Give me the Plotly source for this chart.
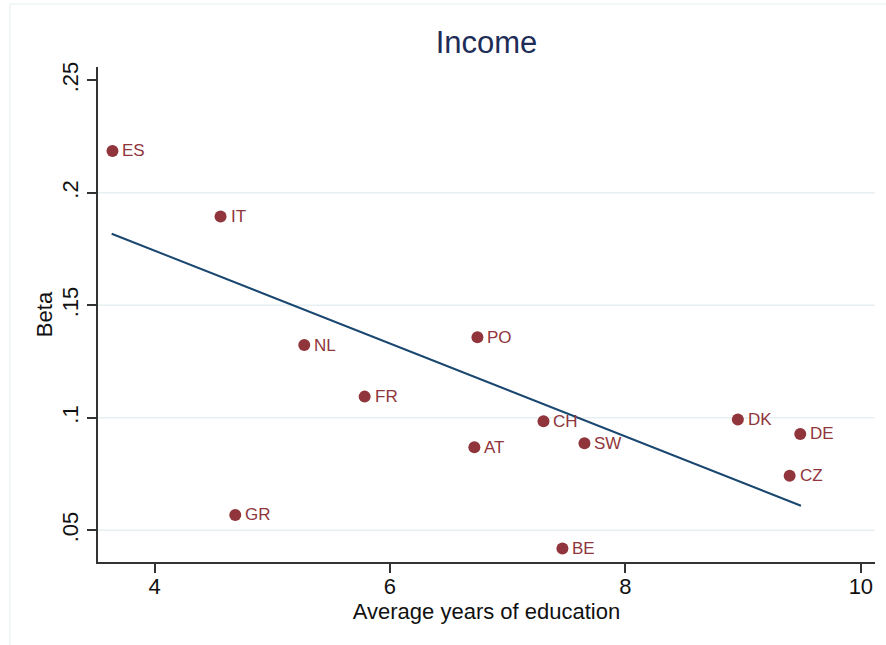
import plotly.graph_objects as go

countries = ["ES", "IT", "NL", "FR", "GR", "PO", "CH", "AT", "SW", "DK", "DE", "CZ", "BE"]
education = [3.643, 4.561, 5.272, 5.785, 4.686, 6.743, 7.304, 6.717, 7.652, 8.955, 9.485, 9.395, 7.465]
beta = [0.2186, 0.1895, 0.1323, 0.1094, 0.0568, 0.1358, 0.0985, 0.0869, 0.0887, 0.0992, 0.0928, 0.0742, 0.0419]

# fitted line as drawn in the reference (endpoints)
fit_x = [3.636, 9.491]
fit_y = [0.1818, 0.0609]

x_ticks = [4, 6, 8, 10]
y_ticks = [0.05, 0.10, 0.15, 0.20, 0.25]
y_ticktext = [".05", ".1", ".15", ".2", ".25"]
grid_vals = [0.05, 0.10, 0.15, 0.20]

W, H = 886, 645
ML, MR, MT, MB = 98, 11, 67, 83

MAROON = "#90353B"
NAVY = "#1A476F"
FONT = "Liberation Sans, Arial, sans-serif"

fig = go.Figure()
fig.add_trace(go.Scatter(
    x=fit_x, y=fit_y, mode="lines", line=dict(color=NAVY, width=2),
    showlegend=False,
))
fig.add_trace(go.Scatter(
    x=education, y=beta, mode="markers",
    marker=dict(color=MAROON, size=12),
    cliponaxis=False, showlegend=False,
))

annotations = []
for c, xv, yv in zip(countries, education, beta):
    annotations.append(dict(x=xv, y=yv, xref="x", yref="y", text=c, showarrow=False,
                            xanchor="left", yanchor="middle", xshift=8,
                            font=dict(color=MAROON, size=17, family=FONT)))

shapes = []
for g in grid_vals:
    shapes.append(dict(type="line", xref="paper", yref="y", x0=0, x1=1, y0=g, y1=g,
                       line=dict(color="#E6EFF1", width=1.5), layer="below"))
pw = W - ML - MR
ph = H - MT - MB
# faint outer graph-region border (left and top)
bx0 = (10 - ML) / pw
by1 = 1 + (MT - 4) / ph
by0 = -(MB + 5) / ph
bx1 = 1 + (MR + 5) / pw
shapes.append(dict(type="line", xref="paper", yref="paper", x0=bx0, x1=bx0, y0=by0, y1=by1,
                   line=dict(color="#EEF4F5", width=1.5)))
shapes.append(dict(type="line", xref="paper", yref="paper", x0=bx0, x1=bx1, y0=by1, y1=by1,
                   line=dict(color="#EEF4F5", width=1.5)))

fig.update_layout(
    width=W, height=H,
    margin=dict(l=ML, r=MR, t=MT, b=MB),
    paper_bgcolor="white", plot_bgcolor="white",
    font=dict(family=FONT, color="#111111"),
    title=dict(text="Income", x=0.5, xref="paper", xanchor="center",
               y=1 - 42 / H, yanchor="middle",
               font=dict(size=31, color="#1E2D57", family=FONT)),
    shapes=shapes,
    annotations=annotations,
    xaxis=dict(range=[3.52, 10.12], tickvals=x_ticks, showgrid=False, zeroline=False,
               showline=True, linecolor="#333333", linewidth=1.5,
               ticks="outside", ticklen=9, tickcolor="#333333", tickwidth=1.5,
               ticklabelstandoff=-5,
               tickfont=dict(size=22, family=FONT, color="#111111"),
               title=dict(text="Average years of education", font=dict(size=22, family=FONT, color="#111111"),
                          standoff=2)),
    yaxis=dict(range=[0.0359, 0.2559], tickvals=y_ticks, ticktext=y_ticktext, tickangle=-90,
               showgrid=False, zeroline=False,
               showline=True, linecolor="#333333", linewidth=1.5,
               ticks="outside", ticklen=9, tickcolor="#333333", tickwidth=1.5,
               tickfont=dict(size=22, family=FONT, color="#111111"),
               title=dict(text="Beta", font=dict(size=22, family=FONT, color="#111111"),
                          standoff=0)),
)

fig.write_html("out.html")
